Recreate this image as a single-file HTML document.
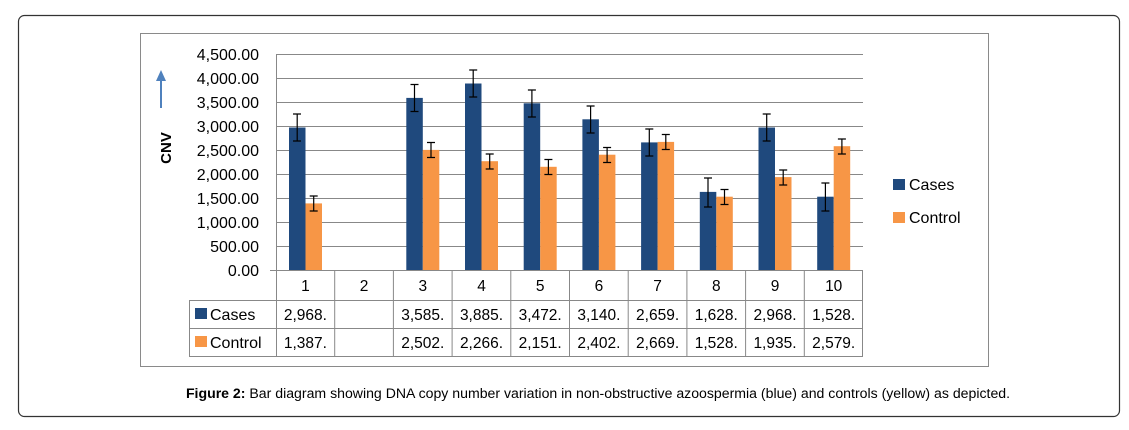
<!DOCTYPE html>
<html><head><style>
body{margin:0;background:#fff;}
svg text{font-family:"Liberation Sans",Arial,sans-serif;}
</style></head><body>
<svg width="1129" height="425" xmlns="http://www.w3.org/2000/svg">
<rect x="18.5" y="15.5" width="1101" height="401" rx="6" fill="#fff" stroke="#333" stroke-width="1.2"/>
<rect x="140.5" y="33.5" width="848" height="333" fill="#fff" stroke="#8a8a8a" stroke-width="1"/>
<g stroke="#888" stroke-width="1">
<line x1="276" y1="54.5" x2="863" y2="54.5"/><line x1="276" y1="78.5" x2="863" y2="78.5"/>
<line x1="276" y1="102.5" x2="863" y2="102.5"/><line x1="276" y1="126.5" x2="863" y2="126.5"/>
<line x1="276" y1="150.5" x2="863" y2="150.5"/><line x1="276" y1="174.5" x2="863" y2="174.5"/>
<line x1="276" y1="198.5" x2="863" y2="198.5"/><line x1="276" y1="222.5" x2="863" y2="222.5"/>
<line x1="276" y1="246.5" x2="863" y2="246.5"/><line x1="270" y1="270.5" x2="863" y2="270.5"/>
<line x1="276.5" y1="54" x2="276.5" y2="357"/>
</g>
<g fill="#000" font-size="16" text-anchor="end">
<text x="259" y="60">4,500.00</text><text x="259" y="84">4,000.00</text><text x="259" y="108">3,500.00</text>
<text x="259" y="132">3,000.00</text><text x="259" y="156">2,500.00</text><text x="259" y="180">2,000.00</text>
<text x="259" y="204">1,500.00</text><text x="259" y="228">1,000.00</text><text x="259" y="252">500.00</text>
<text x="259" y="276">0.00</text>
</g>
<text transform="translate(171,148) rotate(-90)" font-size="15" font-weight="bold" text-anchor="middle">CNV</text>
<line x1="161" y1="108" x2="161" y2="80" stroke="#4f81bd" stroke-width="2"/>
<polygon points="161,70 156,81 166,81" fill="#4f81bd"/>
<g fill="#1f497d">
<rect x="289" y="127.5" width="16.5" height="142.5"/>
<rect x="406.3" y="97.9" width="16.5" height="172.1"/>
<rect x="465" y="83.5" width="16.5" height="186.5"/>
<rect x="523.7" y="103.3" width="16.5" height="166.7"/>
<rect x="582.4" y="119.3" width="16.5" height="150.7"/>
<rect x="641.1" y="142.4" width="16.5" height="127.6"/>
<rect x="699.8" y="191.9" width="16.5" height="78.1"/>
<rect x="758.5" y="127.5" width="16.5" height="142.5"/>
<rect x="817.2" y="196.7" width="16.5" height="73.3"/>
</g>
<g fill="#f79646">
<rect x="305.5" y="203.4" width="16.5" height="66.6"/>
<rect x="422.8" y="149.9" width="16.5" height="120.1"/>
<rect x="481.5" y="161.2" width="16.5" height="108.8"/>
<rect x="540.2" y="166.8" width="16.5" height="103.2"/>
<rect x="598.9" y="154.7" width="16.5" height="115.3"/>
<rect x="657.6" y="141.9" width="16.5" height="128.1"/>
<rect x="716.3" y="196.7" width="16.5" height="73.3"/>
<rect x="775" y="177.1" width="16.5" height="92.9"/>
<rect x="833.7" y="146.2" width="16.5" height="123.8"/>
</g>
<g stroke="#000" stroke-width="1.2" fill="none">
<path d="M297.2 114v27M293 114h8M293 141h8"/>
<path d="M414.5 84.5v27M410.5 84.5h8M410.5 111.5h8"/>
<path d="M473.2 70v27M469.2 70h8M469.2 97h8"/>
<path d="M531.9 90v27M527.9 90h8M527.9 117h8"/>
<path d="M590.6 106v27M586.6 106h8M586.6 133h8"/>
<path d="M649.3 129v27M645.3 129h8M645.3 156h8"/>
<path d="M708 178v29M704 178h8M704 207h8"/>
<path d="M766.7 114v27M762.7 114h8M762.7 141h8"/>
<path d="M825.4 183v28M821.4 183h8M821.4 211h8"/>
<path d="M313.7 196v15M309.7 196h8M309.7 211h8"/>
<path d="M431 142.5v15M427 142.5h8M427 157.5h8"/>
<path d="M489.7 154v15M485.7 154h8M485.7 169h8"/>
<path d="M548.4 159.5v15M544.4 159.5h8M544.4 174.5h8"/>
<path d="M607.1 147.5v15M603.1 147.5h8M603.1 162.5h8"/>
<path d="M665.8 134.5v15M661.8 134.5h8M661.8 149.5h8"/>
<path d="M724.5 189.5v15M720.5 189.5h8M720.5 204.5h8"/>
<path d="M783.2 170v15M779.2 170h8M779.2 185h8"/>
<path d="M841.9 139v15M837.9 139h8M837.9 154h8"/>
</g>
<g stroke="#888" stroke-width="1">
<line x1="189" y1="300.5" x2="863" y2="300.5"/><line x1="189" y1="328.5" x2="863" y2="328.5"/>
<line x1="189" y1="356.5" x2="863" y2="356.5"/><line x1="189.5" y1="300" x2="189.5" y2="357"/>
<line x1="334.7" y1="270" x2="334.7" y2="357"/><line x1="393.4" y1="270" x2="393.4" y2="357"/>
<line x1="452.1" y1="270" x2="452.1" y2="357"/><line x1="510.8" y1="270" x2="510.8" y2="357"/>
<line x1="569.5" y1="270" x2="569.5" y2="357"/><line x1="628.2" y1="270" x2="628.2" y2="357"/>
<line x1="686.9" y1="270" x2="686.9" y2="357"/><line x1="745.6" y1="270" x2="745.6" y2="357"/>
<line x1="804.3" y1="270" x2="804.3" y2="357"/><line x1="862.5" y1="270" x2="862.5" y2="357"/>
</g>
<g font-size="15.5" text-anchor="middle">
<text x="305.4" y="291">1</text><text x="364.1" y="291">2</text><text x="422.8" y="291">3</text>
<text x="481.5" y="291">4</text><text x="540.2" y="291">5</text><text x="598.9" y="291">6</text>
<text x="657.6" y="291">7</text><text x="716.3" y="291">8</text><text x="775" y="291">9</text>
<text x="833.7" y="291">10</text>
<text x="305.4" y="320">2,968.</text><text x="422.8" y="320">3,585.</text><text x="481.5" y="320">3,885.</text>
<text x="540.2" y="320">3,472.</text><text x="598.9" y="320">3,140.</text><text x="657.6" y="320">2,659.</text>
<text x="716.3" y="320">1,628.</text><text x="775" y="320">2,968.</text><text x="833.7" y="320">1,528.</text>
<text x="305.4" y="348">1,387.</text><text x="422.8" y="348">2,502.</text><text x="481.5" y="348">2,266.</text>
<text x="540.2" y="348">2,151.</text><text x="598.9" y="348">2,402.</text><text x="657.6" y="348">2,669.</text>
<text x="716.3" y="348">1,528.</text><text x="775" y="348">1,935.</text><text x="833.7" y="348">2,579.</text>
</g>
<rect x="195" y="308" width="12" height="11" fill="#1f497d"/>
<text x="210" y="320" font-size="16">Cases</text>
<rect x="195" y="336" width="12" height="11" fill="#f79646"/>
<text x="210" y="348" font-size="16">Control</text>
<rect x="893" y="179" width="12" height="11" fill="#1f497d"/>
<text x="909" y="190" font-size="16">Cases</text>
<rect x="893" y="212" width="12" height="11" fill="#f79646"/>
<text x="909" y="223" font-size="16">Control</text>
<text x="598" y="398" font-size="14.1" text-anchor="middle"><tspan font-weight="bold">Figure 2:</tspan> Bar diagram showing DNA copy number variation in non-obstructive azoospermia (blue) and controls (yellow) as depicted.</text>
</svg>
</body></html>
